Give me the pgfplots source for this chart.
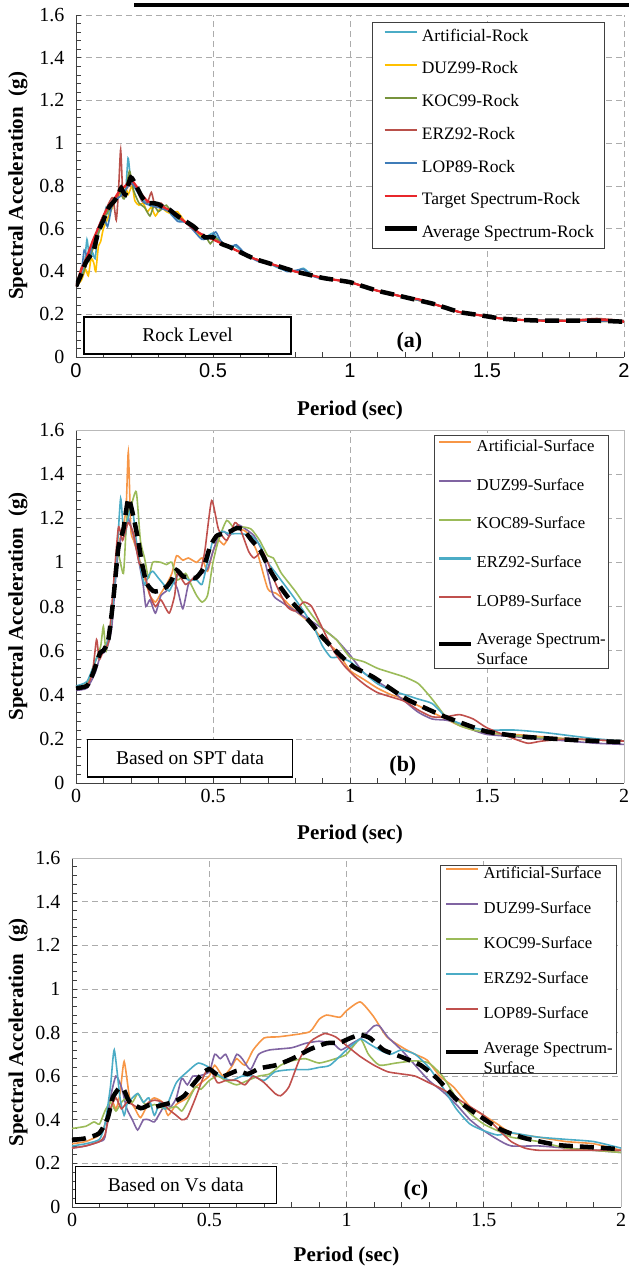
\documentclass[border=0pt]{standalone}
\usepackage{pgfplots}
\pgfplotsset{compat=1.18}
\usepackage{fontspec}
\setmainfont{Liberation Serif}
\newfontfamily\arialfont{Liberation Sans}

\definecolor{cArtR}{HTML}{4BACC6}
\definecolor{cDuzR}{HTML}{FFC000}
\definecolor{cKocR}{HTML}{77933C}
\definecolor{cErzR}{HTML}{B9504A}
\definecolor{cLopR}{HTML}{3F7CB8}
\definecolor{cTarR}{HTML}{E8262B}
\definecolor{cArtS}{HTML}{F79646}
\definecolor{cDuzS}{HTML}{8064A2}
\definecolor{cKocS}{HTML}{9BBB59}
\definecolor{cErzS}{HTML}{4BACC6}
\definecolor{cLopS}{HTML}{C0504D}

\tikzset{
  boxnode/.style={draw=black, line width=1.5pt, fill=white, font=\fontsize{19.5}{23}\selectfont, inner sep=0pt},
  tagnode/.style={font=\bfseries\fontsize{22}{26}\selectfont, anchor=center},
}

\pgfplotsset{
  cur/.style={line width=1.6pt, smooth, tension=0.35, mark=none, legend image post style={line width=2.2pt}},
  avg/.style={black, line width=4.5pt, dash pattern=on 14pt off 7pt, smooth, tension=0.35, mark=none},
  spec/.style={
    scale only axis,
    xmin=0, xmax=2, ymin=0, ymax=1.6,
    xtick={0,0.5,1,1.5,2},
    ytick={0,0.2,0.4,0.6,0.8,1,1.2,1.4,1.6},
    yticklabels={0,0.2,0.4,0.6,0.8,1,1.2,1.4,1.6},
    xticklabels={0,0.5,1,1.5,2},
    minor x tick num=4, minor y tick num=4,
    axis x line*=bottom, axis y line*=left,
    tick align=inside, major tick length=5pt, minor tick length=5pt,
    tick style={gray!50!black, line width=0.6pt},
    grid=major,
    major grid style={dash pattern=on 6pt off 4pt, gray!65, line width=0.7pt},
    axis line style={gray!50!black, line width=0.9pt},
    ticklabel style={font=\fontsize{20}{24}\selectfont},
    yticklabel style={xshift=-8pt},
    xticklabel style={yshift=-3pt},
    xlabel={Period (sec)},
    ylabel={Spectral Acceleration\ \ (g)},
    label style={font=\bfseries\fontsize{21}{25}\selectfont},
    legend cell align=left,
    legend image code/.code={\draw[##1,solid] (0pt,5pt) -- (32pt,5pt);},
    legend style={anchor=north west, draw=gray!50!black, line width=0.8pt, fill=white,
      font=\fontsize{16.7}{20}\selectfont,
      nodes={inner sep=0pt, text height=12pt, text depth=4pt},
      /tikz/every odd column/.append style={column sep=3pt}},
  },
}

\begin{document}
\begin{tikzpicture}
\useasboundingbox (0,0) rectangle (629pt,1267pt);
\draw[black, line width=4pt] (134pt,1262pt) -- (629pt,1262pt);

% ---------------- (a) ----------------
\begin{axis}[spec,
  at={(76pt,910pt)}, anchor=south west, width=548pt, height=342pt,
  xticklabel style={font=\arialfont\fontsize{20}{24}\selectfont},
  xlabel style={at={(axis description cs:0.5,-0.155)}, anchor=center},
  ylabel style={at={(axis description cs:-0.1058,0.5)}, anchor=center},
  legend style={at={(0.540,0.980)}, inner xsep=10pt, inner ysep=7pt, row sep=16.7pt,
    font=\fontsize{17.5}{20}\selectfont},
]
\addplot[cur, cArtR] coordinates {(0,0.33)(0.015,0.36)(0.03,0.42)(0.04,0.55)(0.05,0.45)(0.06,0.49)(0.07,0.46)(0.08,0.58)(0.09,0.60)(0.10,0.63)(0.11,0.70)(0.12,0.66)(0.13,0.73)(0.15,0.75)(0.17,0.77)(0.18,0.75)(0.19,0.93)(0.20,0.83)(0.22,0.79)(0.24,0.74)(0.26,0.72)(0.28,0.70)(0.30,0.71)(0.33,0.69)(0.36,0.65)(0.40,0.63)(0.44,0.59)(0.47,0.56)(0.50,0.58)(0.52,0.55)(0.55,0.52)(0.58,0.52)(0.62,0.48)(0.65,0.46)(0.70,0.44)(0.75,0.41)(0.80,0.40)(0.83,0.415)(0.86,0.385)(0.90,0.37)(0.95,0.36)(1.00,0.35)(1.05,0.33)(1.10,0.31)(1.15,0.295)(1.20,0.28)(1.25,0.27)(1.30,0.25)(1.35,0.23)(1.40,0.21)(1.45,0.20)(1.50,0.19)(1.55,0.18)(1.60,0.175)(1.70,0.17)(1.80,0.17)(1.90,0.175)(2.00,0.17)};
\addlegendentry{Artificial-Rock}
\addplot[cur, cDuzR] coordinates {(0,0.33)(0.02,0.36)(0.035,0.41)(0.045,0.38)(0.055,0.46)(0.065,0.44)(0.072,0.40)(0.082,0.52)(0.09,0.54)(0.10,0.60)(0.12,0.66)(0.14,0.72)(0.16,0.76)(0.18,0.80)(0.19,0.76)(0.205,0.80)(0.215,0.73)(0.23,0.71)(0.245,0.72)(0.26,0.68)(0.275,0.70)(0.29,0.66)(0.31,0.70)(0.33,0.68)(0.35,0.67)(0.37,0.68)(0.40,0.63)(0.43,0.61)(0.45,0.57)(0.48,0.56)(0.50,0.55)(0.55,0.52)(0.60,0.49)(0.65,0.46)(0.70,0.44)(0.80,0.40)(0.90,0.37)(1.00,0.35)(1.10,0.31)(1.20,0.28)(1.30,0.25)(1.40,0.21)(1.50,0.19)(1.60,0.175)(1.80,0.17)(2.00,0.165)};
\addlegendentry{DUZ99-Rock}
\addplot[cur, cKocR] coordinates {(0,0.33)(0.02,0.37)(0.04,0.44)(0.06,0.50)(0.08,0.57)(0.10,0.64)(0.12,0.69)(0.14,0.73)(0.16,0.77)(0.176,0.74)(0.195,0.87)(0.21,0.78)(0.23,0.72)(0.25,0.70)(0.27,0.66)(0.285,0.71)(0.30,0.68)(0.32,0.70)(0.33,0.71)(0.36,0.66)(0.40,0.63)(0.45,0.58)(0.48,0.55)(0.49,0.53)(0.51,0.555)(0.55,0.52)(0.60,0.49)(0.65,0.46)(0.70,0.44)(0.80,0.40)(0.90,0.37)(1.00,0.35)(1.10,0.31)(1.20,0.28)(1.30,0.25)(1.40,0.21)(1.50,0.19)(1.60,0.175)(1.80,0.17)(2.00,0.165)};
\addlegendentry{KOC99-Rock}
\addplot[cur, cErzR] coordinates {(0,0.33)(0.02,0.42)(0.04,0.46)(0.06,0.53)(0.08,0.60)(0.10,0.66)(0.12,0.72)(0.135,0.745)(0.147,0.64)(0.156,0.80)(0.163,0.97)(0.171,0.76)(0.18,0.78)(0.20,0.81)(0.22,0.79)(0.24,0.73)(0.26,0.72)(0.275,0.77)(0.29,0.70)(0.31,0.72)(0.33,0.69)(0.36,0.67)(0.40,0.63)(0.45,0.58)(0.50,0.55)(0.55,0.52)(0.60,0.49)(0.65,0.46)(0.70,0.44)(0.75,0.42)(0.80,0.40)(0.85,0.385)(0.90,0.37)(0.95,0.36)(1.00,0.35)(1.05,0.33)(1.10,0.31)(1.15,0.295)(1.20,0.28)(1.25,0.27)(1.30,0.25)(1.35,0.23)(1.40,0.21)(1.45,0.20)(1.50,0.19)(1.55,0.18)(1.60,0.175)(1.70,0.17)(1.80,0.17)(1.90,0.18)(2.00,0.17)};
\addlegendentry{ERZ92-Rock}
\addplot[cur, cLopR] coordinates {(0,0.33)(0.02,0.40)(0.03,0.50)(0.045,0.46)(0.06,0.52)(0.08,0.60)(0.10,0.66)(0.115,0.61)(0.13,0.70)(0.14,0.73)(0.16,0.75)(0.18,0.78)(0.20,0.82)(0.22,0.78)(0.25,0.72)(0.30,0.70)(0.34,0.68)(0.37,0.635)(0.40,0.63)(0.43,0.59)(0.46,0.55)(0.49,0.56)(0.51,0.585)(0.53,0.54)(0.56,0.51)(0.585,0.525)(0.62,0.48)(0.66,0.45)(0.70,0.44)(0.74,0.42)(0.77,0.40)(0.80,0.405)(0.83,0.41)(0.86,0.38)(0.90,0.365)(0.95,0.36)(1.00,0.35)(1.10,0.31)(1.20,0.28)(1.30,0.25)(1.40,0.21)(1.50,0.19)(1.60,0.175)(1.80,0.17)(2.00,0.165)};
\addlegendentry{LOP89-Rock}
\addplot[cur, cTarR, line width=2.2pt] coordinates {(0,0.33)(0.02,0.41)(0.04,0.47)(0.06,0.54)(0.08,0.60)(0.10,0.66)(0.12,0.71)(0.14,0.74)(0.16,0.78)(0.18,0.80)(0.20,0.83)(0.22,0.80)(0.24,0.76)(0.26,0.73)(0.28,0.72)(0.30,0.71)(0.32,0.70)(0.35,0.68)(0.40,0.63)(0.45,0.58)(0.50,0.55)(0.55,0.52)(0.60,0.49)(0.65,0.46)(0.70,0.44)(0.75,0.42)(0.80,0.40)(0.85,0.385)(0.90,0.37)(0.95,0.36)(1.00,0.35)(1.05,0.33)(1.10,0.31)(1.15,0.295)(1.20,0.28)(1.25,0.27)(1.30,0.25)(1.35,0.23)(1.40,0.21)(1.45,0.20)(1.50,0.19)(1.55,0.18)(1.60,0.175)(1.70,0.17)(1.80,0.17)(1.90,0.175)(2.00,0.165)};
\addlegendentry{Target Spectrum-Rock}
\addplot[avg] coordinates {(0,0.33)(0.02,0.39)(0.035,0.44)(0.05,0.47)(0.065,0.50)(0.08,0.58)(0.10,0.64)(0.12,0.70)(0.14,0.73)(0.155,0.76)(0.165,0.79)(0.18,0.76)(0.20,0.84)(0.22,0.80)(0.24,0.75)(0.26,0.72)(0.28,0.72)(0.30,0.715)(0.32,0.70)(0.34,0.69)(0.37,0.66)(0.40,0.635)(0.43,0.61)(0.45,0.585)(0.47,0.56)(0.50,0.56)(0.53,0.53)(0.56,0.515)(0.60,0.49)(0.65,0.46)(0.70,0.44)(0.75,0.42)(0.80,0.40)(0.85,0.385)(0.90,0.37)(0.95,0.36)(1.00,0.35)(1.05,0.33)(1.10,0.31)(1.15,0.295)(1.20,0.28)(1.25,0.265)(1.30,0.25)(1.35,0.23)(1.40,0.21)(1.45,0.20)(1.50,0.19)(1.55,0.18)(1.60,0.175)(1.70,0.17)(1.80,0.17)(1.90,0.17)(2.00,0.165)};
\addlegendentry{Average Spectrum-Rock}
\node[boxnode, minimum width=207pt, minimum height=37pt] at (axis cs:0.4076,0.1015) {Rock Level};
\node[tagnode] at (axis cs:1.217,0.068) {(a)};
\end{axis}

% ---------------- (b) ----------------
\begin{axis}[spec,
  at={(76pt,484pt)}, anchor=south west, width=548pt, height=353pt,
  xlabel style={at={(axis description cs:0.5,-0.147)}, anchor=center},
  ylabel style={at={(axis description cs:-0.1058,0.5)}, anchor=center},
  legend style={at={(0.653,0.986)}, inner xsep=3pt, inner ysep=4pt, row sep=22.7pt},
  after end axis/.code={\draw[gray!55, line width=0.8pt] (rel axis cs:0,1) -- (rel axis cs:1,1) -- (rel axis cs:1,0);},
]
\addplot[cur, cArtS] coordinates {(0,0.44)(0.04,0.45)(0.07,0.55)(0.09,0.60)(0.11,0.62)(0.13,0.75)(0.15,1.05)(0.17,1.15)(0.183,1.25)(0.191,1.50)(0.20,1.15)(0.21,1.10)(0.23,1.02)(0.25,0.93)(0.27,0.85)(0.29,0.82)(0.31,0.86)(0.33,0.90)(0.35,0.95)(0.367,1.03)(0.39,1.01)(0.41,1.02)(0.44,1.00)(0.46,1.02)(0.48,0.96)(0.50,1.05)(0.52,1.10)(0.54,1.08)(0.56,1.12)(0.58,1.15)(0.62,1.14)(0.66,1.05)(0.70,0.88)(0.73,0.86)(0.76,0.83)(0.80,0.78)(0.85,0.73)(0.90,0.65)(0.95,0.60)(1.00,0.51)(1.05,0.47)(1.10,0.43)(1.15,0.40)(1.20,0.38)(1.25,0.35)(1.30,0.32)(1.35,0.29)(1.40,0.26)(1.45,0.24)(1.50,0.225)(1.60,0.22)(1.70,0.21)(1.80,0.20)(1.90,0.195)(2.00,0.19)};
\addlegendentry{Artificial-Surface}
\addplot[cur, cDuzS] coordinates {(0,0.42)(0.04,0.43)(0.07,0.50)(0.09,0.58)(0.11,0.60)(0.13,0.70)(0.15,1.00)(0.17,1.15)(0.18,1.12)(0.19,1.20)(0.21,1.12)(0.23,1.00)(0.245,0.90)(0.255,0.80)(0.27,0.83)(0.29,0.77)(0.31,0.85)(0.33,0.87)(0.35,0.92)(0.37,0.88)(0.39,0.79)(0.41,0.90)(0.43,0.93)(0.46,0.95)(0.48,0.97)(0.50,1.05)(0.52,1.12)(0.54,1.14)(0.56,1.12)(0.59,1.17)(0.62,1.15)(0.65,1.12)(0.68,1.05)(0.70,0.95)(0.72,0.85)(0.75,0.82)(0.80,0.78)(0.85,0.74)(0.90,0.70)(0.95,0.65)(1.00,0.58)(1.05,0.50)(1.10,0.46)(1.15,0.42)(1.20,0.37)(1.25,0.32)(1.30,0.29)(1.35,0.285)(1.40,0.27)(1.45,0.24)(1.50,0.22)(1.60,0.21)(1.70,0.20)(1.80,0.19)(1.90,0.18)(2.00,0.175)};
\addlegendentry{DUZ99-Surface}
\addplot[cur, cKocS] coordinates {(0,0.43)(0.04,0.45)(0.07,0.55)(0.09,0.62)(0.10,0.71)(0.11,0.60)(0.13,0.75)(0.15,1.05)(0.173,0.95)(0.185,1.20)(0.20,1.25)(0.22,1.32)(0.235,1.10)(0.25,1.02)(0.265,0.93)(0.28,1.00)(0.31,1.00)(0.33,0.99)(0.35,1.00)(0.37,0.92)(0.40,0.95)(0.42,0.90)(0.44,0.85)(0.46,0.82)(0.48,0.85)(0.50,1.00)(0.52,1.10)(0.55,1.19)(0.58,1.15)(0.61,1.16)(0.64,1.15)(0.67,1.10)(0.70,1.03)(0.72,1.02)(0.75,0.95)(0.80,0.87)(0.85,0.78)(0.90,0.70)(0.95,0.65)(1.00,0.57)(1.05,0.55)(1.10,0.52)(1.15,0.50)(1.20,0.48)(1.25,0.45)(1.30,0.38)(1.35,0.30)(1.40,0.26)(1.45,0.24)(1.50,0.23)(1.60,0.215)(1.70,0.205)(1.80,0.20)(1.90,0.195)(2.00,0.19)};
\addlegendentry{KOC89-Surface}
\addplot[cur, cErzS] coordinates {(0,0.44)(0.04,0.46)(0.07,0.55)(0.09,0.60)(0.11,0.62)(0.13,0.75)(0.15,1.05)(0.163,1.29)(0.175,1.12)(0.19,1.20)(0.205,1.25)(0.22,1.10)(0.235,0.98)(0.25,0.90)(0.265,0.94)(0.28,0.96)(0.30,0.93)(0.32,0.90)(0.34,0.87)(0.36,0.92)(0.38,0.95)(0.41,0.92)(0.44,0.92)(0.46,0.90)(0.48,1.00)(0.50,1.10)(0.53,1.14)(0.56,1.13)(0.60,1.13)(0.64,1.12)(0.67,1.08)(0.70,1.00)(0.73,0.95)(0.76,0.90)(0.79,0.85)(0.83,0.78)(0.87,0.70)(0.90,0.62)(0.93,0.57)(0.96,0.57)(1.00,0.55)(1.05,0.50)(1.10,0.45)(1.15,0.42)(1.20,0.40)(1.25,0.38)(1.30,0.36)(1.35,0.30)(1.40,0.27)(1.45,0.25)(1.50,0.24)(1.60,0.24)(1.70,0.23)(1.80,0.215)(1.90,0.20)(2.00,0.19)};
\addlegendentry{ERZ92-Surface}
\addplot[cur, cLopS] coordinates {(0,0.43)(0.04,0.44)(0.06,0.50)(0.075,0.65)(0.085,0.56)(0.10,0.60)(0.12,0.65)(0.14,0.95)(0.155,1.16)(0.17,1.10)(0.19,1.18)(0.21,1.13)(0.23,1.00)(0.25,0.95)(0.27,0.85)(0.29,0.80)(0.31,0.83)(0.34,0.77)(0.36,0.85)(0.37,0.95)(0.40,0.90)(0.43,0.93)(0.45,0.94)(0.47,1.05)(0.495,1.28)(0.52,1.15)(0.55,1.10)(0.58,1.18)(0.60,1.15)(0.63,1.05)(0.65,1.02)(0.68,1.05)(0.70,1.00)(0.73,0.90)(0.77,0.80)(0.80,0.78)(0.83,0.82)(0.86,0.80)(0.90,0.70)(0.94,0.60)(0.98,0.53)(1.02,0.48)(1.06,0.44)(1.10,0.41)(1.15,0.39)(1.20,0.37)(1.25,0.33)(1.30,0.30)(1.35,0.30)(1.40,0.31)(1.45,0.29)(1.50,0.25)(1.60,0.20)(1.65,0.18)(1.70,0.19)(1.80,0.20)(1.90,0.195)(2.00,0.19)};
\addlegendentry{LOP89-Surface}
\addplot[avg] coordinates {(0,0.43)(0.04,0.44)(0.063,0.50)(0.088,0.59)(0.10,0.60)(0.118,0.65)(0.136,0.83)(0.155,1.07)(0.173,1.15)(0.191,1.29)(0.209,1.21)(0.227,1.10)(0.24,1.00)(0.258,0.905)(0.282,0.87)(0.30,0.87)(0.331,0.89)(0.349,0.92)(0.367,0.965)(0.392,0.935)(0.416,0.935)(0.438,0.93)(0.465,0.973)(0.489,1.07)(0.513,1.12)(0.538,1.13)(0.562,1.14)(0.586,1.155)(0.61,1.15)(0.641,1.10)(0.672,1.056)(0.708,0.965)(0.745,0.89)(0.781,0.83)(0.818,0.78)(0.854,0.73)(0.903,0.656)(0.951,0.595)(1.012,0.527)(1.085,0.48)(1.207,0.38)(1.328,0.31)(1.39,0.28)(1.499,0.233)(1.633,0.21)(1.815,0.195)(2.0,0.185)};
\addlegendentry[text depth=20pt]{\begin{tabular}[t]{@{}l@{}}Average Spectrum-\\Surface\end{tabular}}
\node[boxnode, minimum width=205pt, minimum height=37.4pt] at (axis cs:0.416,0.113) {Based on SPT data};
\node[tagnode] at (axis cs:1.193,0.074) {(b)};
\end{axis}

% ---------------- (c) ----------------
\begin{axis}[spec,
  at={(72pt,60pt)}, anchor=south west, width=549pt, height=349pt,
  xlabel style={at={(axis description cs:0.5,-0.143)}, anchor=center},
  ylabel style={at={(axis description cs:-0.098,0.5)}, anchor=center},
  legend style={at={(0.670,0.980)}, inner xsep=4pt, inner ysep=1pt, row sep=19pt},
  after end axis/.code={\draw[gray!55, line width=0.8pt] (rel axis cs:0,1) -- (rel axis cs:1,1) -- (rel axis cs:1,0);},
]
\addplot[cur, cArtS] coordinates {(0,0.29)(0.05,0.30)(0.10,0.33)(0.12,0.38)(0.14,0.50)(0.16,0.45)(0.175,0.52)(0.19,0.667)(0.21,0.50)(0.23,0.45)(0.25,0.41)(0.28,0.48)(0.30,0.50)(0.33,0.48)(0.35,0.42)(0.38,0.47)(0.42,0.50)(0.45,0.55)(0.50,0.60)(0.52,0.65)(0.55,0.60)(0.58,0.64)(0.60,0.68)(0.63,0.65)(0.66,0.72)(0.70,0.775)(0.75,0.78)(0.806,0.789)(0.867,0.804)(0.90,0.86)(0.928,0.88)(0.976,0.87)(1.00,0.90)(1.05,0.94)(1.098,0.874)(1.147,0.78)(1.208,0.728)(1.25,0.70)(1.293,0.674)(1.34,0.60)(1.39,0.55)(1.45,0.46)(1.50,0.42)(1.55,0.38)(1.60,0.34)(1.70,0.32)(1.80,0.30)(1.90,0.29)(2.00,0.26)};
\addlegendentry{Artificial-Surface}
\addplot[cur, cDuzS] coordinates {(0,0.27)(0.05,0.28)(0.10,0.30)(0.12,0.32)(0.14,0.50)(0.16,0.60)(0.18,0.55)(0.20,0.45)(0.22,0.40)(0.239,0.353)(0.26,0.40)(0.28,0.40)(0.30,0.39)(0.32,0.43)(0.34,0.47)(0.36,0.46)(0.38,0.50)(0.40,0.59)(0.42,0.56)(0.44,0.60)(0.46,0.60)(0.50,0.62)(0.52,0.70)(0.54,0.68)(0.56,0.70)(0.58,0.65)(0.60,0.70)(0.62,0.68)(0.65,0.63)(0.68,0.70)(0.72,0.72)(0.80,0.73)(0.85,0.75)(0.90,0.76)(0.95,0.75)(0.98,0.72)(1.02,0.75)(1.06,0.78)(1.10,0.83)(1.12,0.83)(1.15,0.78)(1.20,0.72)(1.25,0.65)(1.30,0.58)(1.35,0.53)(1.40,0.47)(1.45,0.40)(1.50,0.35)(1.55,0.31)(1.60,0.28)(1.70,0.28)(1.80,0.27)(1.90,0.26)(2.00,0.25)};
\addlegendentry{DUZ99-Surface}
\addplot[cur, cKocS] coordinates {(0,0.36)(0.05,0.37)(0.08,0.39)(0.10,0.38)(0.12,0.44)(0.14,0.48)(0.16,0.44)(0.18,0.48)(0.20,0.50)(0.22,0.48)(0.24,0.52)(0.26,0.48)(0.28,0.46)(0.30,0.47)(0.34,0.45)(0.38,0.46)(0.40,0.44)(0.42,0.48)(0.45,0.55)(0.47,0.54)(0.50,0.58)(0.53,0.60)(0.56,0.58)(0.60,0.56)(0.64,0.58)(0.68,0.60)(0.72,0.61)(0.76,0.65)(0.80,0.67)(0.85,0.68)(0.90,0.66)(0.96,0.68)(1.00,0.70)(1.05,0.77)(1.08,0.70)(1.12,0.65)(1.18,0.66)(1.25,0.67)(1.30,0.66)(1.35,0.60)(1.40,0.50)(1.45,0.43)(1.50,0.38)(1.55,0.35)(1.60,0.32)(1.70,0.30)(1.80,0.27)(1.90,0.26)(2.00,0.25)};
\addlegendentry{KOC99-Surface}
\addplot[cur, cErzS] coordinates {(0,0.28)(0.05,0.29)(0.10,0.31)(0.12,0.38)(0.14,0.55)(0.154,0.72)(0.175,0.50)(0.19,0.42)(0.20,0.47)(0.22,0.50)(0.24,0.52)(0.26,0.48)(0.28,0.50)(0.30,0.42)(0.32,0.48)(0.34,0.45)(0.38,0.57)(0.42,0.62)(0.46,0.66)(0.50,0.64)(0.54,0.60)(0.58,0.58)(0.62,0.60)(0.66,0.60)(0.70,0.58)(0.74,0.62)(0.80,0.63)(0.86,0.63)(0.90,0.64)(0.94,0.65)(1.00,0.72)(1.05,0.77)(1.08,0.75)(1.12,0.72)(1.16,0.70)(1.20,0.72)(1.25,0.70)(1.30,0.64)(1.35,0.55)(1.40,0.45)(1.45,0.38)(1.50,0.35)(1.55,0.33)(1.60,0.34)(1.65,0.33)(1.70,0.32)(1.80,0.31)(1.90,0.30)(2.00,0.27)};
\addlegendentry{ERZ92-Surface}
\addplot[cur, cLopS] coordinates {(0,0.27)(0.05,0.28)(0.10,0.30)(0.12,0.33)(0.14,0.45)(0.16,0.50)(0.18,0.45)(0.20,0.48)(0.22,0.47)(0.25,0.45)(0.28,0.48)(0.30,0.49)(0.33,0.48)(0.35,0.45)(0.38,0.42)(0.40,0.40)(0.42,0.41)(0.45,0.50)(0.48,0.60)(0.50,0.64)(0.53,0.57)(0.56,0.58)(0.60,0.58)(0.63,0.56)(0.66,0.60)(0.70,0.57)(0.74,0.52)(0.76,0.51)(0.79,0.55)(0.83,0.68)(0.87,0.76)(0.92,0.795)(0.96,0.78)(1.00,0.74)(1.05,0.69)(1.10,0.65)(1.15,0.62)(1.20,0.61)(1.25,0.60)(1.30,0.57)(1.35,0.54)(1.40,0.50)(1.45,0.46)(1.50,0.42)(1.55,0.36)(1.60,0.30)(1.65,0.27)(1.70,0.26)(1.80,0.26)(1.90,0.26)(2.00,0.26)};
\addlegendentry{LOP89-Surface}
\addplot[avg] coordinates {(0,0.307)(0.05,0.315)(0.099,0.338)(0.13,0.407)(0.148,0.50)(0.172,0.545)(0.19,0.535)(0.209,0.483)(0.251,0.453)(0.282,0.468)(0.306,0.46)(0.33,0.468)(0.373,0.483)(0.409,0.51)(0.44,0.56)(0.476,0.613)(0.50,0.632)(0.525,0.61)(0.549,0.598)(0.603,0.625)(0.64,0.61)(0.685,0.636)(0.746,0.651)(0.806,0.682)(0.867,0.723)(0.928,0.751)(0.976,0.754)(1.013,0.774)(1.05,0.789)(1.086,0.774)(1.135,0.72)(1.196,0.69)(1.269,0.651)(1.33,0.59)(1.403,0.49)(1.505,0.40)(1.566,0.353)(1.651,0.315)(1.772,0.284)(1.894,0.274)(2.0,0.265)};
\addlegendentry[text depth=19pt]{\begin{tabular}[t]{@{}l@{}}Average Spectrum-\\Surface\end{tabular}}
\node[boxnode, minimum width=201pt, minimum height=36.6pt] at (axis cs:0.378,0.101) {Based on Vs data};
\node[tagnode] at (axis cs:1.253,0.078) {(c)};
\end{axis}
\end{tikzpicture}
\end{document}
